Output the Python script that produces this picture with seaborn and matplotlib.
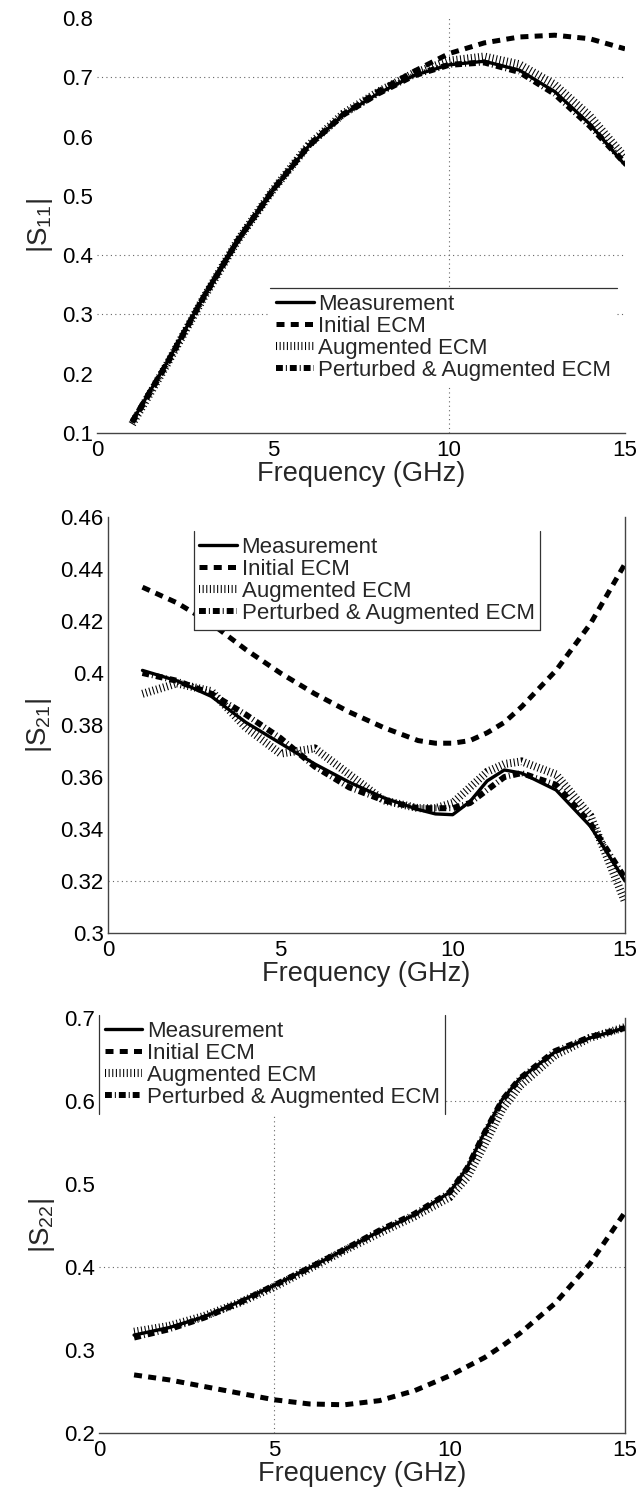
import matplotlib
matplotlib.use("Agg")
import matplotlib.pyplot as plt
from matplotlib.lines import Line2D
import seaborn as sns
import numpy as np

sns.set_theme(style="white")
plt.rcParams['font.family'] = ['Liberation Sans', 'DejaVu Sans']
plt.rcParams['mathtext.fontset'] = 'custom'
plt.rcParams['mathtext.rm'] = 'Liberation Sans'
plt.rcParams['mathtext.it'] = 'Liberation Sans'
plt.rcParams['mathtext.default'] = 'regular'

# ---------------- data ----------------
series_names = ["Measurement", "Initial ECM", "Augmented ECM", "Perturbed & Augmented ECM"]

f11 = [1, 2, 3, 4, 5, 6, 7, 8, 9, 10, 11, 12, 13, 14, 15]
s11_meas = [0.120, 0.220, 0.327, 0.425, 0.510, 0.583, 0.637, 0.673, 0.703, 0.721, 0.727, 0.712, 0.676, 0.621, 0.552]
s11_init = [0.120, 0.220, 0.327, 0.425, 0.510, 0.583, 0.638, 0.677, 0.710, 0.740, 0.758, 0.768, 0.771, 0.765, 0.748]
s11_aug  = [0.115, 0.217, 0.325, 0.425, 0.510, 0.585, 0.639, 0.676, 0.707, 0.728, 0.735, 0.722, 0.688, 0.635, 0.565]
s11_pert = [0.118, 0.218, 0.326, 0.425, 0.510, 0.584, 0.637, 0.673, 0.703, 0.721, 0.725, 0.709, 0.672, 0.618, 0.555]

f21 = [1, 2, 3, 4, 5, 6, 7, 8, 9, 9.5, 10, 10.5, 11, 11.5, 12, 13, 14, 15]
s21_meas = [0.401, 0.397, 0.391, 0.381, 0.373, 0.365, 0.358, 0.352, 0.3475, 0.3458, 0.3455, 0.3505, 0.3585, 0.3627, 0.3615, 0.355, 0.341, 0.320]
s21_init = [0.433, 0.427, 0.419, 0.409, 0.400, 0.392, 0.385, 0.379, 0.374, 0.373, 0.373, 0.374, 0.377, 0.381, 0.387, 0.401, 0.419, 0.442]
s21_aug  = [0.392, 0.396, 0.393, 0.379, 0.369, 0.371, 0.361, 0.351, 0.348, 0.348, 0.350, 0.356, 0.362, 0.365, 0.366, 0.361, 0.345, 0.312]
s21_pert = [0.400, 0.397, 0.392, 0.384, 0.375, 0.364, 0.356, 0.351, 0.348, 0.348, 0.348, 0.350, 0.355, 0.360, 0.3615, 0.357, 0.342, 0.321]

f22 = [1, 2, 3, 4, 5, 6, 7, 8, 9, 10, 10.5, 11, 11.5, 12, 13, 14, 15]
s22_meas = [0.318, 0.327, 0.340, 0.358, 0.378, 0.399, 0.421, 0.443, 0.463, 0.490, 0.520, 0.563, 0.602, 0.627, 0.659, 0.676, 0.688]
s22_init = [0.270, 0.264, 0.256, 0.248, 0.240, 0.235, 0.234, 0.239, 0.251, 0.269, 0.280, 0.291, 0.305, 0.320, 0.356, 0.404, 0.466]
s22_aug  = [0.322, 0.329, 0.341, 0.357, 0.376, 0.398, 0.420, 0.441, 0.461, 0.484, 0.508, 0.548, 0.590, 0.618, 0.655, 0.676, 0.689]
s22_pert = [0.315, 0.325, 0.339, 0.357, 0.378, 0.399, 0.421, 0.444, 0.464, 0.490, 0.519, 0.562, 0.601, 0.627, 0.660, 0.677, 0.688]

x_ticks = [0, 5, 10, 15]
y_ticks_11 = [0.1, 0.2, 0.3, 0.4, 0.5, 0.6, 0.7, 0.8]
y_ticks_21 = [0.3, 0.32, 0.34, 0.36, 0.38, 0.4, 0.42, 0.44, 0.46]
y_ticks_22 = [0.2, 0.3, 0.4, 0.5, 0.6, 0.7]

# ---------------- styles ----------------
styles = [
    dict(lw=2.4, linestyle='-'),
    dict(lw=3.6, linestyle=(0, (1.6, 1.25)), dash_capstyle='butt'),
    dict(lw=5.8, linestyle=(0, (0.13, 0.32)), dash_capstyle='butt'),
    dict(lw=4.3, linestyle=(0, (1.15, 0.5, 0.17, 0.5)), dash_capstyle='butt'),
]

fig = plt.figure(figsize=(6.41, 14.95), dpi=100)
W, H = 641.0, 1495.0
def add_ax(l, r, t, b):
    return fig.add_axes([l / W, 1 - b / H, (r - l) / W, (b - t) / H])

ax1 = add_ax(97, 625, 18, 433)
ax2 = add_ax(108, 625, 517, 933)
ax3 = add_ax(99, 625, 1018, 1433)

panels = [
    (ax1, f11, [s11_meas, s11_init, s11_aug, s11_pert], (0.1, 0.8), y_ticks_11, r'$|S_{11}|$'),
    (ax2, f21, [s21_meas, s21_init, s21_aug, s21_pert], (0.3, 0.46), y_ticks_21, r'$|S_{21}|$'),
    (ax3, f22, [s22_meas, s22_init, s22_aug, s22_pert], (0.2, 0.7), y_ticks_22, r'$|S_{22}|$'),
]

grid_style = dict(color='#666666', lw=0.8, linestyle=(0, (1, 3)), zorder=0.5)

def fmt(v):
    return ('%.2f' % v).rstrip('0')

for ax, f, ys, ylim, yt, ylab in panels:
    for name, y, st in zip(series_names, ys, styles):
        sns.lineplot(x=f, y=y, ax=ax, color='black', label=name, **st)
    ax.set_xlim(0, 15)
    ax.set_ylim(*ylim)
    ax.set_xticks(x_ticks)
    ax.set_xticklabels([str(t) for t in x_ticks])
    ax.set_yticks(yt)
    ax.set_yticklabels([fmt(t) for t in yt])
    ax.tick_params(axis='both', labelsize=16, length=0, colors='black')
    ax.tick_params(axis='x', pad=5)
    ax.tick_params(axis='y', pad=3)
    ax.set_xlabel('Frequency (GHz)', fontsize=19.5, labelpad=0)
    ax.set_ylabel(ylab, fontsize=20, labelpad=5)
    for sp in ax.spines.values():
        sp.set_color('#444444')
        sp.set_linewidth(1.0)

# selective grid lines (as visible in the reference)
for v in [0.7, 0.4, 0.3]:
    ax1.axhline(v, **grid_style)
ax1.axvline(10, **grid_style)
ax2.axhline(0.32, **grid_style)
for v in [0.6, 0.4]:
    ax3.axhline(v, **grid_style)
ax3.axvline(5, **grid_style)

# spines visibility
ax1.spines['top'].set_visible(False)
ax1.spines['right'].set_visible(False)
ax1.spines['left'].set_visible(False)
ax2.spines['top'].set_visible(False)
ax3.spines['top'].set_visible(False)
ax3.spines['left'].set_visible(False)

leg_kw = dict(loc='upper left', fontsize=16, frameon=True, fancybox=False,
              framealpha=1.0, edgecolor='none', borderaxespad=0,
              handlelength=1.7, handletextpad=0.2, labelspacing=0.05,
              borderpad=0.25)
lg1 = ax1.legend(bbox_to_anchor=(0.328, 0.349), **leg_kw)
lg2 = ax2.legend(bbox_to_anchor=(0.166, 0.966), **leg_kw)
lg3 = ax3.legend(bbox_to_anchor=(0.0, 1.007), **leg_kw)

fig.canvas.draw()
inv = fig.transFigure.inverted()
def legend_edges(leg, edges):
    bb = leg.get_frame().get_window_extent().transformed(inv)
    x0, y0, x1, y1 = bb.x0, bb.y0, bb.x1, bb.y1
    segs = {'top': ([x0, x1], [y1, y1]), 'bottom': ([x0, x1], [y0, y0]),
            'left': ([x0, x0], [y0, y1]), 'right': ([x1, x1], [y0, y1])}
    for e in edges:
        xs, ys = segs[e]
        fig.add_artist(Line2D(xs, ys, transform=fig.transFigure, color='#333333', lw=0.9))

legend_edges(lg1, ['top'])
legend_edges(lg2, ['left', 'right', 'bottom'])
legend_edges(lg3, ['left', 'right'])

fig.savefig('out.png', dpi=100)
